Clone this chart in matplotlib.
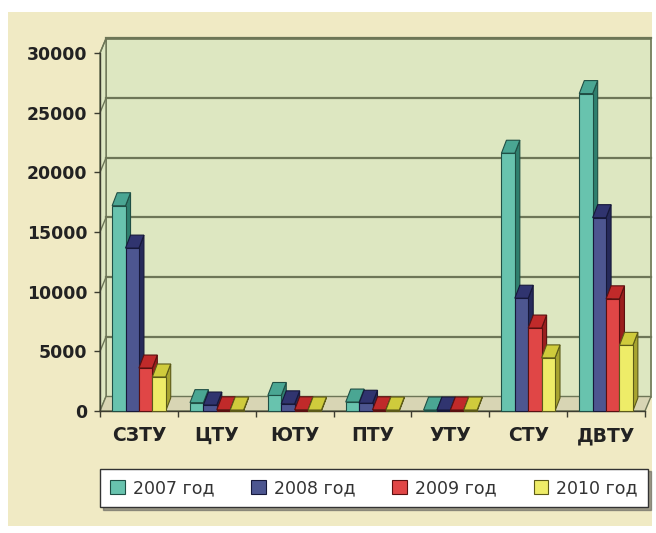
import matplotlib
matplotlib.use("Agg")
import matplotlib.pyplot as plt
from matplotlib.patches import Rectangle, Polygon, Patch

categories = ["СЗТУ", "ЦТУ", "ЮТУ", "ПТУ", "УТУ", "СТУ", "ДВТУ"]
series_names = ["2007 год", "2008 год", "2009 год", "2010 год"]
values_2007 = [17200, 700, 1300, 750, 80, 21600, 26600]
values_2008 = [13650, 500, 600, 650, 80, 9450, 16200]
values_2009 = [3600, 100, 100, 100, 80, 6950, 9400]
values_2010 = [2850, 80, 80, 80, 80, 4450, 5500]
yticks = [0, 5000, 10000, 15000, 20000, 25000, 30000]

series = [values_2007, values_2008, values_2009, values_2010]
# front, top, side, edge
palette = [
    ("#68c3ae", "#4aa693", "#2f7f6e", "#1f4f45"),
    ("#4d5690", "#30346f", "#262a5a", "#16183a"),
    ("#e04646", "#c02a2a", "#9a1e1e", "#5a1010"),
    ("#eeec68", "#cfcb3c", "#a8a430", "#5c5a18"),
]

CREAM = "#f0eac4"
WALL = "#dde7c1"
FLOOR = "#d8d5b4"
GRID = "#6d7657"

fig = plt.figure(figsize=(6.56, 5.33), dpi=100, facecolor="white")
fig.patches.append(Rectangle((8 / 656, 1 - 526 / 533), 644 / 656, 514 / 533,
                             transform=fig.transFigure, facecolor=CREAM,
                             edgecolor="none", zorder=-10))

ax = fig.add_axes([100 / 656, 1 - 411 / 533, 545 / 656, 358 / 533])
ax.set_xlim(-0.5, 6.5)
ax.set_ylim(0, 30000)
ax.patch.set_visible(False)

# depth offsets of the fake 3d box, in data units
DX, DY = 6 / 77.86, 14.5 * 30000 / 358
BDX, BDY = 5 / 77.86, 13 * 30000 / 358
W = 0.172

# back wall, left wall, floor
ax.add_patch(Rectangle((-0.5 + DX, DY), 7, 30000, facecolor=WALL,
                       edgecolor=GRID, lw=1.2, clip_on=False, zorder=0))
ax.add_patch(Polygon([(-0.5, 0), (-0.5 + DX, DY), (-0.5 + DX, 30000 + DY), (-0.5, 30000)],
                     facecolor=WALL, edgecolor=GRID, lw=1.0, clip_on=False, zorder=0))
ax.add_patch(Polygon([(-0.5, 0), (6.5, 0), (6.5 + DX, DY), (-0.5 + DX, DY)],
                     facecolor=FLOOR, edgecolor=GRID, lw=1.0, clip_on=False, zorder=0.5))
for v in yticks[1:]:
    ax.plot([-0.5 + DX, 6.5 + DX], [v + DY, v + DY], color=GRID, lw=1.6,
            clip_on=False, zorder=0.2)
    ax.plot([-0.5, -0.5 + DX], [v, v + DY], color=GRID, lw=1.0,
            clip_on=False, zorder=0.2)

for i in range(len(categories)):
    for j, vals in enumerate(series):
        front, top, side, edge = palette[j]
        v = vals[i]
        x0 = i - 2 * W + j * W
        z = 3 + i * 0.01 + j * 0.1
        ax.add_patch(Polygon([(x0 + W, 0), (x0 + W + BDX, BDY), (x0 + W + BDX, v + BDY), (x0 + W, v)],
                             facecolor=side, edgecolor=edge, lw=0.8, clip_on=False, zorder=z))
        ax.add_patch(Polygon([(x0, v), (x0 + W, v), (x0 + W + BDX, v + BDY), (x0 + BDX, v + BDY)],
                             facecolor=top, edgecolor=edge, lw=0.8, clip_on=False, zorder=z))
        ax.bar(x0, v, width=W, align="edge", color=front, edgecolor=edge, lw=0.8,
               clip_on=False, zorder=z)

for s in ["top", "right"]:
    ax.spines[s].set_visible(False)
for s in ["left", "bottom"]:
    ax.spines[s].set_color("#3c3c30")
    ax.spines[s].set_linewidth(1.0)
    ax.spines[s].set_zorder(2)

ax.set_yticks(yticks)
ax.set_yticklabels([str(t) for t in yticks], fontsize=12.4, fontweight="bold", color="#222222")
ax.tick_params(axis="y", length=4, width=1, color="#3c3c30", pad=5)
ax.set_xticks(range(len(categories)))
ax.set_xticklabels(categories, fontsize=13.5, fontweight="bold", color="#222222")
ax.set_xticks([k - 0.5 for k in range(len(categories) + 1)], minor=True)
ax.tick_params(axis="x", which="major", length=0, pad=11)
ax.tick_params(axis="x", which="minor", length=4, width=1, color="#3c3c30")

handles = [Patch(facecolor=p[0], edgecolor=p[3], lw=0.8) for p in palette]
leg = fig.legend(handles, series_names, ncol=4, loc="center",
                 bbox_to_anchor=(100 / 656, 1 - 511 / 533, 548 / 656, 46 / 533),
                 mode="expand", frameon=True, fancybox=False, shadow=True,
                 fontsize=12.5, handlelength=0.85, handleheight=0.85,
                 handletextpad=0.45, borderaxespad=0, borderpad=0.6)
leg.get_frame().set_edgecolor("#333333")
leg.get_frame().set_facecolor("white")
leg.get_frame().set_linewidth(1.0)
for t in leg.get_texts():
    t.set_color("#333333")

fig.savefig("out.png", dpi=100, facecolor=fig.get_facecolor())
